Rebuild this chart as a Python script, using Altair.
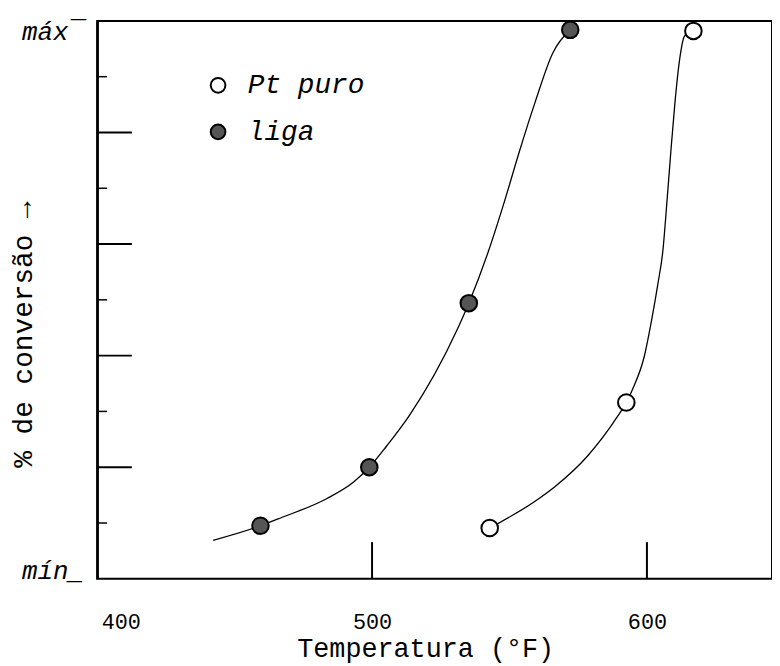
import altair as alt
import pandas as pd

# ---- data ----
# measured points
liga_temp = [459.4, 499.0, 535.2, 572.1]
liga_conv = [0.95, 2.0, 4.94, 9.84]
pt_temp = [542.8, 592.5, 616.9]
pt_conv = [0.91, 3.16, 9.82]

# hand-drawn curves
liga_curve_temp = [442.2, 459.4, 466.7, 483.6, 493.4, 499.0, 505.3, 513.6, 530.9,
                   535.2, 542.4, 548.2, 553.6, 559.3, 565.8, 572.1]
liga_curve_conv = [0.69, 0.95, 1.09, 1.44, 1.74, 2.0, 2.38, 2.93, 4.46,
                   4.94, 5.88, 6.77, 7.66, 8.54, 9.43, 9.84]
pt_curve_temp = [542.8, 559.3, 566.5, 578.4, 589.3, 592.5, 594.7, 599.0, 601.9,
                 604.0, 605.8, 607.3, 608.7, 610.2, 611.9, 613.7, 616.9]
pt_curve_conv = [0.91, 1.39, 1.65, 2.20, 2.91, 3.16, 3.39, 3.98, 4.69,
                 5.29, 5.88, 6.77, 7.66, 8.54, 9.31, 9.73, 9.82]

series_names = ["Pt puro", "liga"]
x_tick_labels = [400, 500, 600]
x_inner_ticks = [500, 600]
y_major_ticks = [2, 4, 6, 8]
y_minor_ticks = [1, 3, 5, 7, 9]

# ---- tables ----
points = pd.DataFrame({
    "temp": pt_temp + liga_temp,
    "conv": pt_conv + liga_conv,
    "series": [series_names[0]] * len(pt_temp) + [series_names[1]] * len(liga_temp),
})
curves = pd.DataFrame({
    "temp": pt_curve_temp + liga_curve_temp,
    "conv": pt_curve_conv + liga_curve_conv,
    "series": [series_names[0]] * len(pt_curve_temp) + [series_names[1]] * len(liga_curve_temp),
    "order": list(range(len(pt_curve_temp))) + list(range(len(liga_curve_temp))),
})
xticks_df = pd.DataFrame({"temp": x_inner_ticks})
ymaj_df = pd.DataFrame({"conv": y_major_ticks})
ymin_df = pd.DataFrame({"conv": y_minor_ticks})

W, H = 681, 563
FONT = "Liberation Mono"

xscale = alt.Scale(domain=[400, 645.5], nice=False, zero=False)
yscale = alt.Scale(domain=[0, 10], nice=False, zero=False)

x_axis = alt.Axis(
    values=x_tick_labels, format="d", ticks=False, tickSize=0, domain=False, grid=False,
    labelFont=FONT, labelFontSize=22, labelColor="black", labelPadding=33,
    labelBaseline="top", labelFlush=True, labelFlushOffset=-4,
    title="Temperatura (°F)", titleFont=FONT, titleFontSize=27, titleFontWeight="normal",
    titleColor="black", titleX=331, titleY=78, titleAlign="center", titleBaseline="alphabetic",
)
y_axis = alt.Axis(
    values=[0, 10], labelExpr="datum.value == 10 ? 'máx¯' : 'mín_'",
    ticks=False, tickSize=0, domain=True, domainWidth=2.5, domainColor="black", grid=False,
    labelFont=FONT, labelFontStyle="italic", labelFontSize=26, labelColor="black",
    labelPadding=14, labelFlush=False, labelBaseline="alphabetic",
    labelOffset={"condition": {"test": "datum.value == 10", "value": 19}, "value": 0},
    title="% de conversão →", titleFont=FONT, titleFontSize=28, titleFontWeight="normal",
    titleColor="black", titleAngle=270, titleX=-74, titleY=316,
    titleAlign="center", titleBaseline="middle",
)

X = alt.X("temp:Q", scale=xscale, axis=x_axis)
Y = alt.Y("conv:Q", scale=yscale, axis=y_axis)

lines = alt.Chart(curves).mark_line(
    interpolate="monotone", color="black", strokeWidth=1.3
).encode(x=X, y=Y, detail="series:N", order="order:Q")

pts = alt.Chart(points).mark_point(
    shape="circle", size=280, filled=True, stroke="black", strokeWidth=2, opacity=1
).encode(
    x=X, y=Y,
    fill=alt.Fill(
        "series:N",
        scale=alt.Scale(domain=series_names, range=["white", "#555555"]),
        legend=alt.Legend(
            title=None, orient="none", legendX=108, legendY=51, padding=0,
            symbolType="circle", symbolSize=220, symbolStrokeColor="black",
            symbolStrokeWidth=2, symbolOpacity=1,
            labelFont=FONT, labelFontStyle="italic", labelFontSize=28,
            labelColor="black", labelOffset=16, rowPadding=19,
        ),
    ),
)

ymaj = alt.Chart(ymaj_df).mark_rule(color="black", strokeWidth=2).encode(
    y=Y, x=alt.value(0), x2=alt.value(35))

ymin = alt.Chart(ymin_df).mark_rule(color="black", strokeWidth=1.5).encode(
    y=Y, x=alt.value(0), x2=alt.value(10))

xin = alt.Chart(xticks_df).mark_rule(color="black", strokeWidth=2).encode(
    x=X, y=alt.value(H - 37), y2=alt.value(H))

chart = alt.layer(lines, ymaj, ymin, xin, pts).properties(
    width=W, height=H,
    autosize=alt.AutoSizeParams(type="none"),
    padding={"left": 90, "top": 10, "right": 0, "bottom": 85},
    background="white",
).configure_view(
    stroke="black", strokeWidth=2
)

chart.save("out.html", embed_options={"renderer": "svg", "actions": False})
